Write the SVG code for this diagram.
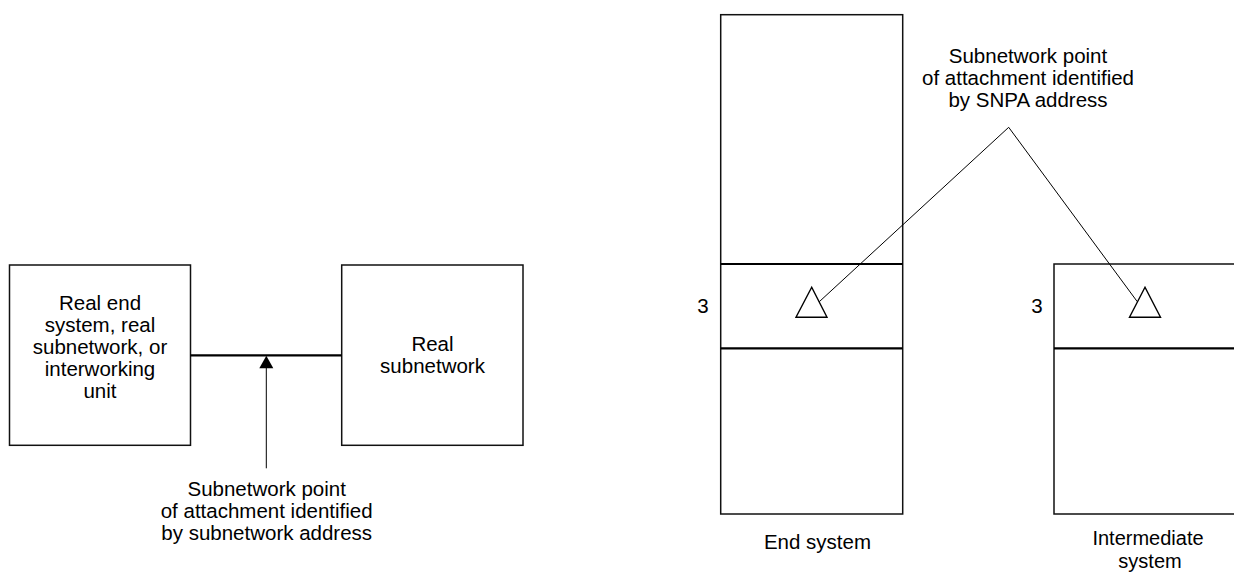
<svg xmlns="http://www.w3.org/2000/svg" width="1234" height="572" viewBox="0 0 1234 572">
<style>
  text { font-family: "Liberation Sans", Arial, sans-serif; font-size: 20.5px; fill: #000; text-anchor: middle; }
  .small { font-size: 20px; }
  .box { fill: #fff; stroke: #111; stroke-width: 1.5; }
  .thick { stroke: #000; stroke-width: 2.2; fill: none; }
  .thin { stroke: #000; stroke-width: 1; fill: none; }
  .tri { fill: #fff; stroke: #000; stroke-width: 1.4; }
  .head { fill: #000; stroke: none; }
</style>
<rect width="1234" height="572" fill="#fff"/>

<g id="node-real-end-system">
  <rect class="box" x="9.5" y="265" width="181" height="180.3"/>
  <text x="100" y="310">Real end</text>
  <text x="100" y="332">system, real</text>
  <text x="100" y="354">subnetwork, or</text>
  <text x="100" y="376">interworking</text>
  <text x="100" y="398">unit</text>
</g>

<g id="node-real-subnetwork">
  <rect class="box" x="341.7" y="265" width="181.3" height="180.3"/>
  <text x="432.5" y="350.7">Real</text>
  <text x="432.5" y="372.7">subnetwork</text>
</g>

<g id="label-subnetwork-address">
  <text x="266.7" y="496">Subnetwork point</text>
  <text x="266.7" y="518">of attachment identified</text>
  <text x="266.7" y="540">by subnetwork address</text>
</g>

<g id="node-end-system">
  <rect class="box" x="720.7" y="14.7" width="182" height="499.3"/>
  <line class="thick" x1="720.7" y1="264" x2="902.7" y2="264"/>
  <line class="thick" x1="720.7" y1="348.3" x2="902.7" y2="348.3"/>
  <polygon class="tri" points="811.7,287.3 796,317.3 827,317.3"/>
  <text x="703" y="313">3</text>
  <text x="817.5" y="549.3">End system</text>
</g>

<g id="node-intermediate-system">
  <path class="box" d="M1240,264 L1054,264 L1054,514 L1240,514"/>
  <line class="thick" x1="1054" y1="348.3" x2="1240" y2="348.3"/>
  <polygon class="tri" points="1145,287.3 1129.5,317.3 1160.5,317.3"/>
  <text x="1037" y="313">3</text>
  <text class="small" x="1148" y="545">Intermediate</text>
  <text class="small" x="1150" y="567.5">system</text>
</g>

<g id="label-snpa-address">
  <text x="1028" y="63.3">Subnetwork point</text>
  <text x="1028" y="85.3">of attachment identified</text>
  <text x="1028" y="107">by SNPA address</text>
</g>

<g id="connectors">
  <line class="thick" x1="190.5" y1="355.3" x2="341.7" y2="355.3"/>
  <line class="thin" x1="266.3" y1="468.3" x2="266.3" y2="368"/>
  <path class="head" d="M259.3,368.3 L266.3,355.8 L273.3,368.3 Z"/>
  <polyline class="thin" points="819.3,301.7 1008.7,127.3 1137.3,301.7"/>
</g>
</svg>
